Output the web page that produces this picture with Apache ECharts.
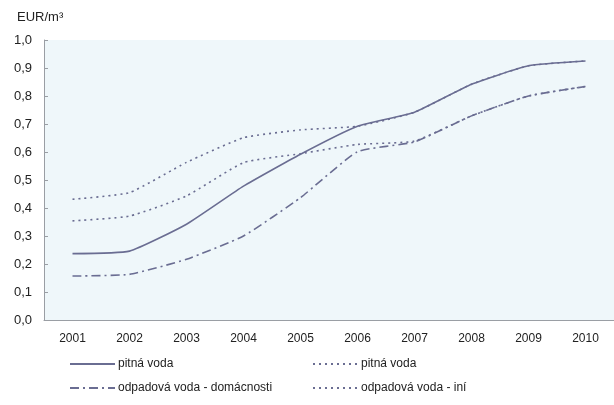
<!DOCTYPE html>
<html><head><meta charset="utf-8">
<script src="https://cdn.jsdelivr.net/npm/echarts@6/dist/echarts.min.js"></script>
<style>html,body{margin:0;padding:0;background:#fff}#c{width:614px;height:405px}</style>
</head><body><div id="c"></div>
<script>
const years = ['2001','2002','2003','2004','2005','2006','2007','2008','2009','2010'];
const pitnaVoda = [0.237, 0.246, 0.342, 0.478, 0.592, 0.692, 0.742, 0.842, 0.908, 0.925];
const pitnaVoda2 = [0.431, 0.455, 0.563, 0.651, 0.679, 0.692, 0.742, 0.842, 0.908, 0.925];
const odpadDomacnosti = [0.157, 0.163, 0.217, 0.300, 0.437, 0.601, 0.636, 0.729, 0.800, 0.834];
const odpadIni = [0.354, 0.371, 0.443, 0.562, 0.594, 0.627, 0.639, 0.729, 0.800, 0.834];
const names = ['pitná voda', 'pitná voda ', 'odpadová voda - domácnosti', 'odpadová voda - iní'];

const col = '#6a6d92';
const font = 'Liberation Sans, Arial, sans-serif';
const chart = echarts.init(document.getElementById('c'));
function ser(name, data, type) {
  return {name, type: 'line', data, symbol: 'none', smooth: 0.15,
    lineStyle: {color: col, width: 1.6, type}, itemStyle: {color: col}};
}
const legendCommon = {orient: 'vertical', top: 353, itemWidth: 45, itemHeight: 10, itemGap: 12,
  itemStyle: {opacity: 0},
  textStyle: {fontFamily: font, fontSize: 12, color: '#222', padding: [0,0,0,-2]},
  formatter: n => n.trim(), selectedMode: false};
chart.setOption({
  animation: false,
  title: {text: 'EUR/m\u00B3', left: 12, top: 6, textStyle: {fontFamily: font, fontSize: 13, fontWeight: 'normal', color: '#222'}},
  grid: {left: 44, top: 40, right: -8, bottom: 85, backgroundColor: '#eff7fa', show: true, borderWidth: 0},
  legend: [
    Object.assign({}, legendCommon, {left: 64, data: [names[0], names[2]]}),
    Object.assign({}, legendCommon, {left: 307, data: [names[1], names[3]]})
  ],
  xAxis: {type: 'category', data: years, boundaryGap: true,
    axisLine: {lineStyle: {color: '#9a9ea4', width: 1}},
    axisTick: {inside: true, length: 4, lineStyle: {color: '#9a9ea4'}},
    axisLabel: {fontFamily: font, fontSize: 12, color: '#222', margin: 13}},
  yAxis: {type: 'value', min: 0, max: 1, interval: 0.1,
    axisLine: {show: true, lineStyle: {color: '#9a9ea4', width: 1}},
    axisTick: {show: true, inside: true, length: 4, lineStyle: {color: '#9a9ea4'}},
    splitLine: {show: false},
    axisLabel: {fontFamily: font, fontSize: 13, color: '#222', margin: 12,
      formatter: v => v.toFixed(1).replace('.', ',')}},
  series: [
    ser(names[0], pitnaVoda, 'solid'),
    ser(names[1], pitnaVoda2, [2, 4]),
    ser(names[2], odpadDomacnosti, [9, 4, 2, 4]),
    ser(names[3], odpadIni, [2, 4])
  ]
});
</script></body></html>
